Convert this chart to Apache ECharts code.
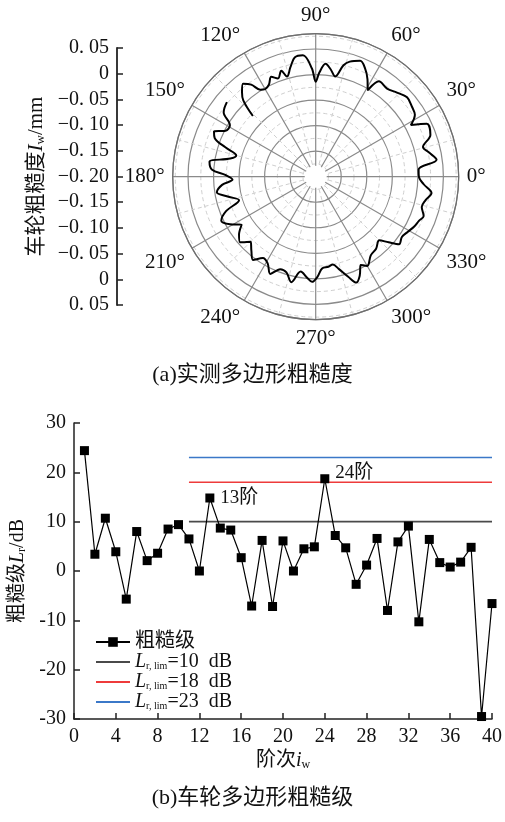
<!DOCTYPE html>
<html>
<head>
<meta charset="utf-8">
<script src="https://cdn.jsdelivr.net/npm/echarts@6/dist/echarts.min.js"></script>
<style>
  html, body { margin: 0; padding: 0; background: #fff; }
  #main { width: 505px; height: 822px; }
</style>
</head>
<body>
<div id="main"></div>
<script>
// ---- (a) measured wheel roughness profile (deviation in mm vs. angle in degrees) ----
const profileAngles = [
  140, 145, 149, 153, 156, 159, 162, 165, 168, 172, 176, 179, 182, 185, 189, 193, 197, 201, 205, 209,
  213, 217, 221, 225, 229, 233, 237, 241, 245, 249, 253, 257, 261, 265, 268, 271, 274, 278, 281, 284,
  288, 291, 294, 297, 300, 305, 310, 315, 318, 321, 325, 329, 333, 337, 340, 344, 348, 352, 356, 360,
  4, 8, 12, 15.5, 20, 25.5, 28.5, 32, 36, 41, 46, 51, 56.5, 59, 62, 65.5, 69, 73.5, 76, 79,
  82, 85, 88, 90, 92, 96, 100, 103, 106, 108, 111, 114, 117, 120, 122.5, 125, 128, 131, 133.5, 136
];
const profileValues = [
  0.027, 0.020, -0.004, -0.002, 0.018, 0.012, -0.014, -0.039, -0.029, 0.010, 0.004, -0.024, -0.037, -0.016, -0.004, -0.025, -0.043, -0.012, 0.004, -0.008,
  -0.027, -0.012, -0.004, -0.020, -0.008, 0.004, -0.010, -0.006, 0.010, -0.006, -0.004, 0.012, -0.012, -0.002, 0.006, -0.004, -0.020, -0.022, -0.025, -0.014,
  0.006, 0.022, 0.012, -0.006, 0.002, -0.012, -0.016, -0.024, -0.008, 0.010, 0.006, 0.010, 0.016, 0.020, 0.025, 0.016, 0.020, 0.029, 0.012, 0.002,
  0.002, 0.039, 0.027, 0.018, 0.039, 0.041, 0.012, 0.029, 0.033, 0.037, 0.029, 0.022, 0.024, -0.002, 0.016, 0.033, 0.043, 0.035, 0.025, 0.000,
  0.012, 0.022, 0.004, -0.014, 0.012, 0.039, 0.037, 0.020, 0.004, 0.018, 0.006, 0.014, 0.002, -0.002, 0.002, 0.020, 0.031, 0.020, 0.006, -0.029
];
// diameter scale shown beside the polar plot, listed bottom to top
const diameterTicks = ['0. 05', '0', '−0. 05', '−0. 10', '−0. 15', '−0. 20', '−0. 15', '−0. 10', '−0. 05', '0', '0. 05'];

// ---- (b) roughness level per polygon order ----
const orders = [1, 2, 3, 4, 5, 6, 7, 8, 9, 10, 11, 12, 13, 14, 15, 16, 17, 18, 19, 20,
                21, 22, 23, 24, 25, 26, 27, 28, 29, 30, 31, 32, 33, 34, 35, 36, 37, 38, 39, 40];
const roughnessLevels = [24.4, 3.4, 10.7, 3.9, -5.7, 8.0, 2.1, 3.6, 8.5, 9.4, 6.5, 0.0, 14.8, 8.7, 8.3, 2.7, -7.1, 6.2, -7.2, 6.1,
                         0.0, 4.5, 4.9, 18.7, 7.2, 4.7, -2.7, 1.2, 6.6, -8.0, 5.9, 9.1, -10.3, 6.4, 1.7, 0.8, 1.8, 4.8, -29.5, -6.6];
const annotatedOrders = { 13: '13阶', 24: '24阶' };
const limitRange = [11, 40];
const limitLevels = [10, 18, 23];
const limitColors = ['#4a4a4a', '#ee3b3b', '#3b78c8'];
const xTicks = { min: 0, max: 40, step: 4 };
const yTicks = { min: -30, max: 30, step: 10 };

const SERIF = "'Liberation Serif', 'Noto Sans CJK SC', serif";
const INK = '#111';
const center = [315.7, 176.7];

const limitNames = limitLevels.map(v => 'Lr,lim=' + v + ' dB');

const mainData = orders.map((o, i) => {
  const item = { value: [o, roughnessLevels[i]] };
  if (annotatedOrders[o]) {
    item.label = {
      show: true, position: 'right', distance: 6,
      formatter: annotatedOrders[o],
      fontFamily: SERIF, fontSize: 19, color: INK,
      offset: o === 24 ? [0, -6] : [0, 0]
    };
  }
  return item;
});

const limitSeries = limitLevels.map((lv, i) => ({
  name: limitNames[i],
  type: 'line',
  xAxisIndex: 1, yAxisIndex: 1,
  data: [[limitRange[0], lv], [limitRange[1], lv]],
  symbol: 'none',
  lineStyle: { color: limitColors[i], width: 1.6 },
  itemStyle: { color: limitColors[i] },
  z: 2,
  silent: true
}));

const subRich = size => ({
  it: { fontFamily: SERIF, fontStyle: 'italic', fontSize: size, color: INK },
  sub: { fontFamily: SERIF, fontSize: Math.round(size * 0.6), color: INK, verticalAlign: 'bottom', padding: [8, 0, 0, 0] }
});

const chart = echarts.init(document.getElementById('main'), null, { renderer: 'canvas' });

chart.setOption({
  animation: false,
  backgroundColor: '#fff',
  textStyle: { fontFamily: SERIF, color: INK },
  polar: { center: center, radius: 143 },
  angleAxis: {
    type: 'value', min: 0, max: 360, interval: 30,
    startAngle: 0, clockwise: false,
    axisLine: { show: true, lineStyle: { color: '#6e6e6e', width: 1.2 } },
    axisTick: { show: false },
    minorTick: { show: false, splitNumber: 2 },
    axisLabel: { formatter: '{value}°', fontFamily: SERIF, fontSize: 21, color: INK, margin: 8 },
    splitLine: { show: true, lineStyle: { color: '#8a8a8a', width: 1.2 } },
    minorSplitLine: { show: true, lineStyle: { color: '#cfcfcf', width: 1, type: [4, 3] } }
  },
  radiusAxis: {
    type: 'value', min: -0.2, max: 0.08, interval: 0.05,
    axisLine: { show: false }, axisTick: { show: false }, axisLabel: { show: false },
    minorTick: { show: false, splitNumber: 2 },
    splitLine: { show: true, lineStyle: { color: '#8a8a8a', width: 1.2 } },
    minorSplitLine: { show: true, lineStyle: { color: '#cfcfcf', width: 1, type: [4, 3] } }
  },
  grid: [
    { left: 117, top: 48, width: 1, height: 257 },
    { left: 74, right: 10, top: 423, bottom: 103 }
  ],
  xAxis: [
    { gridIndex: 0, type: 'value', show: false },
    {
      gridIndex: 1, type: 'value', min: xTicks.min, max: xTicks.max, interval: xTicks.step,
      axisLine: { onZero: false, lineStyle: { color: '#222', width: 1.5 } },
      axisTick: { inside: true, length: 6, lineStyle: { color: '#222', width: 1.5 } },
      axisLabel: { fontFamily: SERIF, fontSize: 20, color: INK, margin: 8 },
      splitLine: { show: false },
      name: '阶次{it|i}{sub|w}', nameLocation: 'middle', nameGap: 32,
      nameTextStyle: { fontFamily: SERIF, fontSize: 20, color: INK, rich: subRich(20) }
    }
  ],
  yAxis: [
    {
      gridIndex: 0, type: 'category', data: diameterTicks, boundaryGap: false,
      axisLine: { lineStyle: { color: '#222', width: 1.8 } },
      axisTick: { inside: true, length: 6, alignWithLabel: true, interval: 0, lineStyle: { color: '#222', width: 1.5 } },
      axisLabel: { interval: 0, fontFamily: SERIF, fontSize: 20, color: INK, margin: 8 },
      name: '车轮粗糙度{it|I}{sub|w}/mm', nameLocation: 'middle', nameRotate: 90, nameGap: 70,
      nameTextStyle: { fontFamily: SERIF, fontSize: 21, color: INK, rich: subRich(21) }
    },
    {
      gridIndex: 1, type: 'value', min: yTicks.min, max: yTicks.max, interval: yTicks.step,
      axisLine: { show: true, onZero: false, lineStyle: { color: '#222', width: 1.5 } },
      axisTick: { inside: true, length: 6, lineStyle: { color: '#222', width: 1.5 } },
      axisLabel: { fontFamily: SERIF, fontSize: 20, color: INK, margin: 8 },
      splitLine: { show: false },
      name: '粗糙级{it|L}{sub|r}/dB', nameLocation: 'middle', nameRotate: 90, nameGap: 46,
      nameTextStyle: { fontFamily: SERIF, fontSize: 20, color: INK, rich: subRich(20) }
    }
  ],
  legend: {
    left: 90, top: 627, orient: 'vertical',
    itemWidth: 34, itemHeight: 12, itemGap: 0,
    data: [{ name: '粗糙级' }].concat(limitNames.map(n => ({ name: n, itemStyle: { opacity: 0 } }))),
    textStyle: {
      fontFamily: SERIF, fontSize: 20, color: INK, lineHeight: 18,
      rich: {
        it: { fontFamily: SERIF, fontStyle: 'italic', fontSize: 20, color: INK },
        sub: { fontFamily: SERIF, fontSize: 10, color: INK, verticalAlign: 'bottom', padding: [8, 0, 0, 0] },
        tx: { fontFamily: SERIF, fontSize: 20, color: INK }
      }
    },
    formatter: name => {
      const i = limitNames.indexOf(name);
      if (i < 0) return name;
      return '{it|L}{sub|r, lim}{tx|=' + limitLevels[i] + '  dB}';
    }
  },
  graphic: [
    { type: 'circle', shape: { cx: center[0], cy: center[1], r: 11 }, style: { fill: '#fff' }, z: 50, silent: true },
    { type: 'text', left: 'center', top: 364, style: { text: '(a)实测多边形粗糙度', font: "22px 'Liberation Serif', 'Noto Sans CJK SC', serif", fill: INK }, silent: true },
    { type: 'text', left: 'center', top: 787, style: { text: '(b)车轮多边形粗糙级', font: "22px 'Liberation Serif', 'Noto Sans CJK SC', serif", fill: INK }, silent: true }
  ],
  series: [
    {
      type: 'line', coordinateSystem: 'polar',
      data: profileAngles.map((a, i) => [profileValues[i], a]),
      showSymbol: false, smooth: 0.35,
      lineStyle: { color: '#000', width: 2 },
      z: 5, silent: true
    }
  ].concat(limitSeries, [
    {
      name: '粗糙级',
      type: 'line', xAxisIndex: 1, yAxisIndex: 1,
      data: mainData,
      symbol: 'rect', symbolSize: 9,
      lineStyle: { color: '#000', width: 1.2 },
      itemStyle: { color: '#000' },
      clip: false, z: 5
    }
  ])
});
</script>
</body>
</html>
